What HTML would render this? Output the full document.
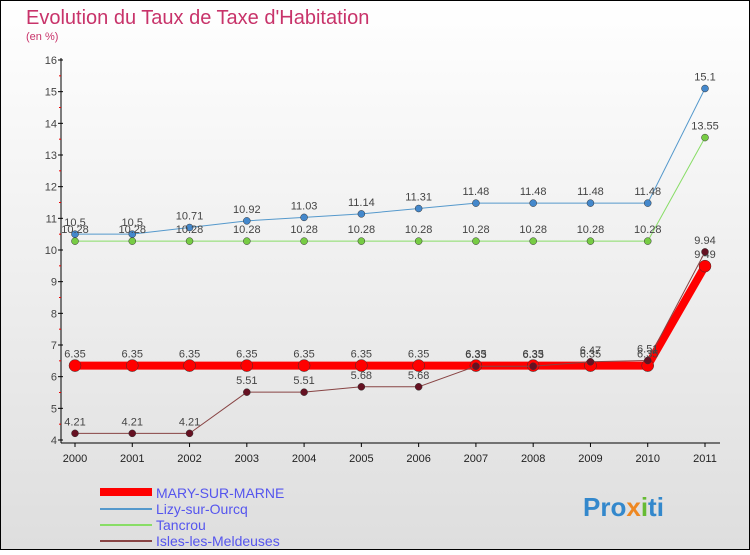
<!DOCTYPE html>
<html><head><meta charset="utf-8"><style>
body{margin:0;width:750px;height:550px;overflow:hidden;font-family:"Liberation Sans",sans-serif}
</style></head><body>
<svg id="c" width="750" height="550" xmlns="http://www.w3.org/2000/svg">
<defs><linearGradient id="bg" x1="0" y1="0" x2="0" y2="1"><stop offset="0" stop-color="#ffffff"/><stop offset="1" stop-color="#dedede"/></linearGradient></defs>
<rect x="0.5" y="0.5" width="749" height="549" fill="url(#bg)" stroke="#000"/>
<text x="26" y="24" font-size="20" fill="#c8336a">Evolution du Taux de Taxe d'Habitation</text>
<text x="26" y="40" font-size="11" fill="#c8336a">(en %)</text>
<g id="axes"></g><g id="series"></g>
<g>
<rect x="100" y="488" width="52" height="8" fill="#ff0000"/>
<text x="156" y="498" font-size="14" fill="#5555ee">MARY-SUR-MARNE</text>
<line x1="100" y1="509" x2="152" y2="509" stroke="#5599cc" stroke-width="2"/>
<text x="156" y="514" font-size="14" fill="#5555ee">Lizy-sur-Ourcq</text>
<line x1="100" y1="525" x2="152" y2="525" stroke="#88dd66" stroke-width="2"/>
<text x="156" y="530" font-size="14" fill="#5555ee">Tancrou</text>
<line x1="100" y1="541" x2="152" y2="541" stroke="#884444" stroke-width="2"/>
<text x="156" y="546" font-size="14" fill="#5555ee">Isles-les-Meldeuses</text>
</g>
<text x="583" y="516" font-size="26" font-weight="bold" fill="#3388cc">Pro<tspan fill="#ee8822">x</tspan><tspan fill="#66bb33">i</tspan>ti</text>
</svg>
<script>
const years=["2000","2001","2002","2003","2004","2005","2006","2007","2008","2009","2010","2011"];
const yTicks=[4,5,6,7,8,9,10,11,12,13,14,15,16];
const mary=[6.35,6.35,6.35,6.35,6.35,6.35,6.35,6.35,6.35,6.35,6.35,9.49];
const lizy=[10.5,10.5,10.71,10.92,11.03,11.14,11.31,11.48,11.48,11.48,11.48,15.1];
const tancrou=[10.28,10.28,10.28,10.28,10.28,10.28,10.28,10.28,10.28,10.28,10.28,13.55];
const isles=[4.21,4.21,4.21,5.51,5.51,5.68,5.68,6.33,6.33,6.47,6.51,9.94];
const NS="http://www.w3.org/2000/svg";
const X=i=>75+i*(705-75)/(years.length-1);
const Y=v=>60+(16-v)*(380/12);
function mk(t,a,p){const e=document.createElementNS(NS,t);for(const k in a)e.setAttribute(k,a[k]);p.appendChild(e);return e;}
const ax=document.getElementById('axes');
const a1=mk('line',{x1:61,y1:58,x2:61,y2:443,stroke:'#000'},ax);


const a2=mk('line',{x1:61,y1:443,x2:720,y2:443,stroke:'#000'},ax);


yTicks.forEach(v=>{mk('line',{x1:58,y1:Y(v),x2:63,y2:Y(v),stroke:'#000'},ax);
if(v<16)mk('line',{x1:59,y1:Y(v+0.5),x2:61,y2:Y(v+0.5),stroke:'#e00'},ax);
const t=mk('text',{x:57,y:Y(v)+4,'font-size':11,fill:'#444','text-anchor':'end'},ax);t.textContent=v;

});
years.forEach((y,i)=>{mk('line',{x1:X(i),y1:443,x2:X(i),y2:447,stroke:'#000'},ax);
const t=mk('text',{x:X(i),y:462,'font-size':11,fill:'#222','text-anchor':'middle'},ax);t.textContent=y;

});
const sg=document.getElementById('series');
function draw(name,vals,color,w,r,dot){
const g=mk('g',{},sg);


mk('polyline',{points:vals.map((v,i)=>X(i)+','+Y(v)).join(' '),fill:'none',stroke:color,'stroke-width':w,'stroke-linejoin':'round'},g);
vals.forEach((v,i)=>{const c=mk('circle',{cx:X(i),cy:Y(v),r:r,fill:dot,stroke:'#333','stroke-width':0.5},g);


const t=mk('text',{x:X(i),y:Y(v)-8,'font-size':11,fill:'#444','text-anchor':'middle'},g);t.textContent=v;});}
draw('lizy',lizy,'#5599cc',1,3.5,'#4488cc');
draw('tancrou',tancrou,'#88dd66',1,3.5,'#77cc44');
draw('mary',mary,'#ff0000',8,6,'#ff0000');
draw('isles',isles,'#884444',1,3.5,'#661122');
</script>
</body></html>
